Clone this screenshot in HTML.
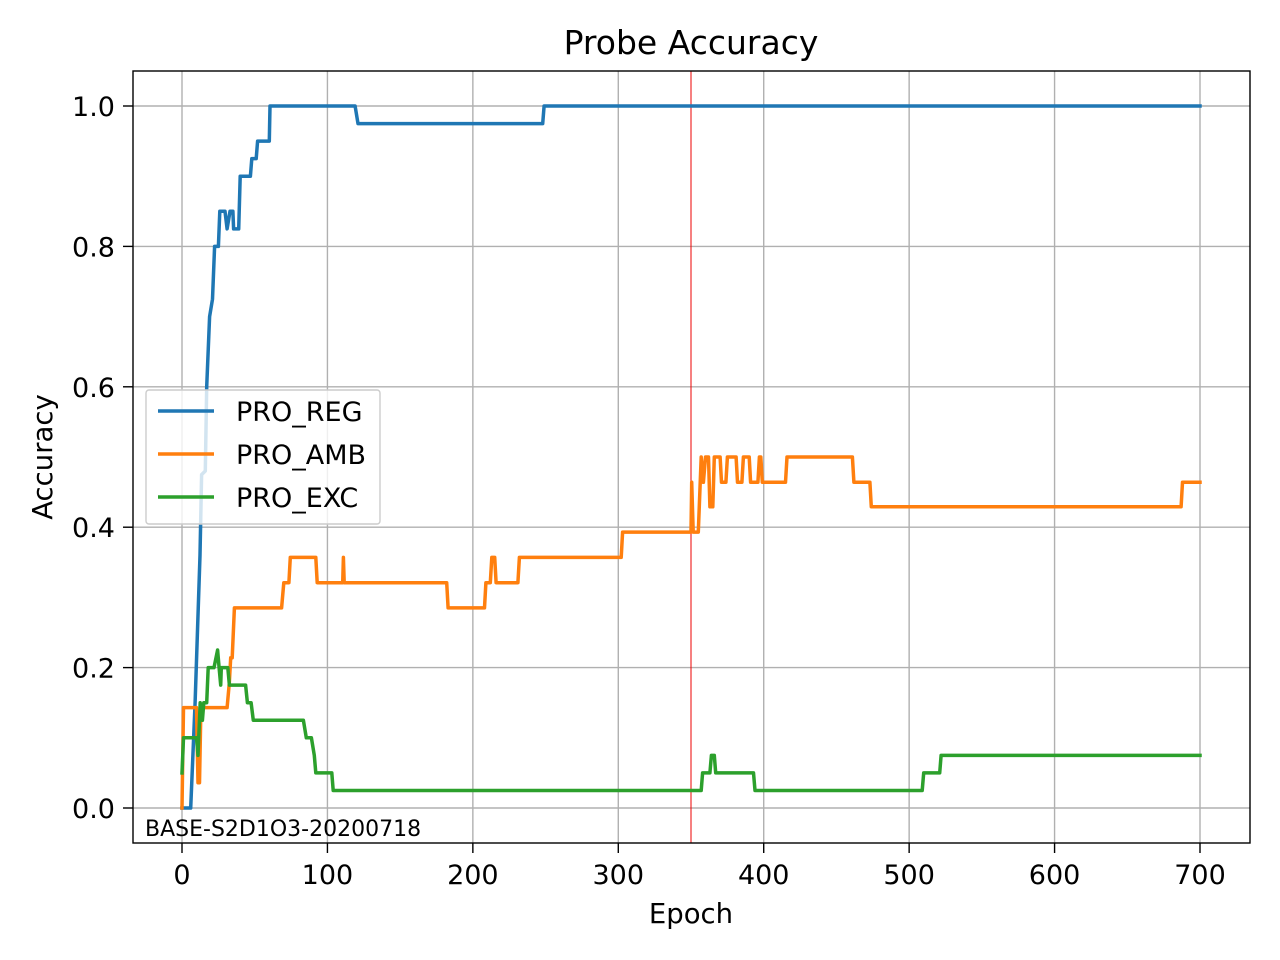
<!DOCTYPE html>
<html><head><meta charset="utf-8"><style>
html,body{margin:0;padding:0;background:#fff;}
svg{display:block;font-family:"DejaVu Sans","Liberation Sans",sans-serif;}
</style></head><body>
<svg id="chart" width="1280" height="960" viewBox="0 0 1280 960">
<rect width="1280" height="960" fill="#fff"/>
<g id="grid"></g>
<g id="series"></g>
<rect x="133" y="71" width="1117" height="772" fill="none" stroke="#000" stroke-width="1.4"/>
<g id="ticks"></g>
<text x="691" y="54" text-anchor="middle" font-size="33">Probe Accuracy</text>
<text x="691" y="923" text-anchor="middle" font-size="27.5">Epoch</text>
<text x="0" y="0" transform="translate(52,457) rotate(-90)" text-anchor="middle" font-size="27.5">Accuracy</text>
<text x="145" y="836" font-size="22">BASE-S2D1O3-20200718</text>
<g>
<rect x="146" y="390" width="234" height="134" rx="3" fill="#fff" fill-opacity="0.8" stroke="#ccc" stroke-width="1.4"/>
<line x1="158" y1="411" x2="214" y2="411" stroke="#1f77b4" stroke-width="3.5"/>
<text x="236" y="421" font-size="27">PRO_REG</text>
<line x1="158" y1="454" x2="214" y2="454" stroke="#ff7f0e" stroke-width="3.5"/>
<text x="236" y="464" font-size="27">PRO_AMB</text>
<line x1="158" y1="497" x2="214" y2="497" stroke="#2ca02c" stroke-width="3.5"/>
<text x="236" y="507" font-size="27">PRO_EXC</text>
</g>
</svg>
<script>
const xTicks = [0,100,200,300,400,500,600,700];
const yTicks = [0,0.2,0.4,0.6,0.8,1.0];
const yTickLabels = ["0.0","0.2","0.4","0.6","0.8","1.0"];
const markerEpoch = 350;
const regEpochs = [0,6,9,12.4,13.5,16,17,19,21,22.4,25,26,29.6,31,33,35,35.5,39,40,47,48,51,52,60,60.5,119,121,248,249,700];
const regValues = [0,0,0.15,0.36,0.475,0.48,0.6,0.7,0.725,0.8,0.8,0.85,0.85,0.825,0.85,0.85,0.825,0.825,0.9,0.9,0.925,0.925,0.95,0.95,1.0,1.0,0.975,0.975,1.0,1.0];
const ambEpochs = [0,1,10,11,12,13,31,32.5,33.5,34.5,36,37,68.5,70,73.5,74.5,92,93,110.5,111,111.5,182,183,208,209,212,213,215,216,231,232,302,303,350,350.5,351.5,352,355,357,358.5,360,362,363,365,366,370,371,374,375,381,382,385,386,390,391,396,397,398,399,415,416,461,462,473,474,687,688,700];
const ambValues = [0,0.143,0.143,0.036,0.036,0.143,0.143,0.178,0.214,0.214,0.285,0.285,0.285,0.321,0.321,0.357,0.357,0.321,0.321,0.357,0.321,0.321,0.285,0.285,0.321,0.321,0.357,0.357,0.321,0.321,0.357,0.357,0.393,0.393,0.464,0.393,0.393,0.393,0.5,0.464,0.5,0.5,0.429,0.429,0.5,0.5,0.464,0.464,0.5,0.5,0.464,0.464,0.5,0.5,0.464,0.464,0.5,0.5,0.464,0.464,0.5,0.5,0.464,0.464,0.429,0.429,0.464,0.464];
const excEpochs = [0,1,10,11,12.5,14,15,17,18,22,24.5,25.5,26.6,27,31.5,32.6,43.7,45,47.5,49,83.5,85.5,89,91,92,103,104,357,358,363,364,366,367,393,394,509,510,521,522,700];
const excValues = [0.05,0.1,0.1,0.075,0.15,0.125,0.15,0.15,0.2,0.2,0.225,0.2,0.175,0.2,0.2,0.175,0.175,0.15,0.15,0.125,0.125,0.1,0.1,0.075,0.05,0.05,0.025,0.025,0.05,0.05,0.075,0.075,0.05,0.05,0.025,0.025,0.05,0.05,0.075,0.075];

const NS="http://www.w3.org/2000/svg";
const X0=182, XS=(1200-182)/700, Y0=808, YS=702;
function xScale(e){return X0+e*XS;}
function yScale(v){return Y0-v*YS;}
const grid=document.getElementById('grid'), ticks=document.getElementById('ticks'), series=document.getElementById('series');
function mk(tag,attrs,parent){const el=document.createElementNS(NS,tag);for(const k in attrs)el.setAttribute(k,attrs[k]);parent.appendChild(el);return el;}
xTicks.forEach(t=>{
  const x=xScale(t);
  const g=mk('line',{x1:x,x2:x,y1:71,y2:843,stroke:'#b0b0b0','stroke-width':1.4},grid);
  
  
  const tk=mk('line',{x1:x,x2:x,y1:843,y2:853,stroke:'#000','stroke-width':1.4},ticks);
  
  
  const lb=mk('text',{x:x,y:884,'text-anchor':'middle','font-size':27},ticks);
  lb.textContent=String(t);
  
  
});
yTicks.forEach((t,i)=>{
  const y=yScale(t);
  const g=mk('line',{x1:133,x2:1250,y1:y,y2:y,stroke:'#b0b0b0','stroke-width':1.4},grid);
  
  
  const tk=mk('line',{x1:123,x2:133,y1:y,y2:y,stroke:'#000','stroke-width':1.4},ticks);
  
  
  const lb=mk('text',{x:115,y:y+10,'text-anchor':'end','font-size':27},ticks);
  lb.textContent=yTickLabels[i];
  
  
});
const mx=xScale(markerEpoch);
const ml=mk('line',{x1:mx,x2:mx,y1:71,y2:843,stroke:'#e00','stroke-width':1},series);


function drawLine(es,vs,color,name){
  const pts=es.map((e,i)=>xScale(e).toFixed(1)+','+yScale(vs[i]).toFixed(1)).join(' ');
  const p=mk('polyline',{points:pts,fill:'none',stroke:color,'stroke-width':3.5,'stroke-linejoin':'round','stroke-linecap':'square'},series);
  
  
}
drawLine(regEpochs,regValues,'#1f77b4','series-pro-reg');
drawLine(ambEpochs,ambValues,'#ff7f0e','series-pro-amb');
drawLine(excEpochs,excValues,'#2ca02c','series-pro-exc');
</script>
</body></html>
